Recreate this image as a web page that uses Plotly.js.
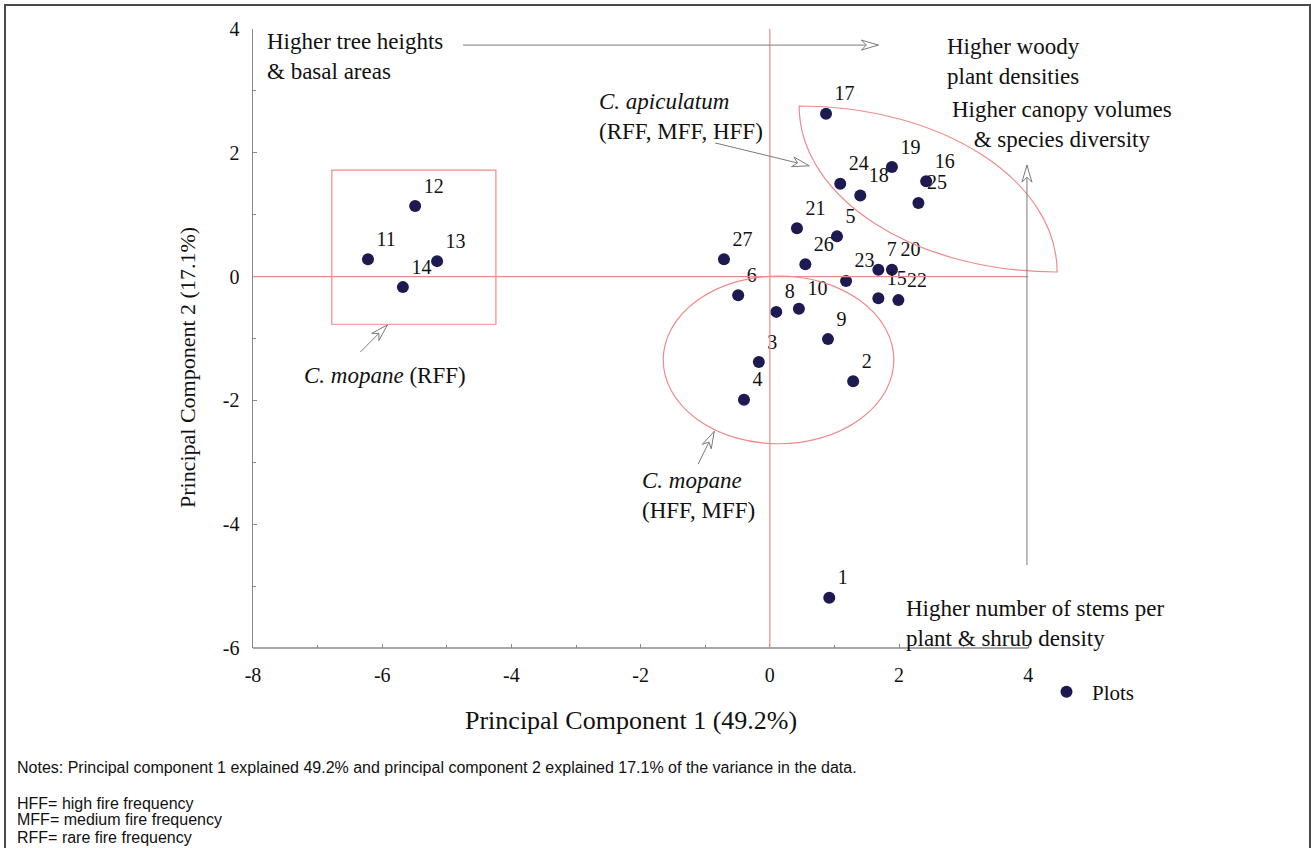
<!DOCTYPE html>
<html>
<head>
<meta charset="utf-8">
<script src="https://cdn.plot.ly/plotly-3.0.1.min.js"></script>
<style>
  html, body { margin: 0; padding: 0; background: #fff; overflow: hidden; }
  #chart { position: absolute; left: 0; top: 0; width: 1311px; height: 848px; }
  #frame { position: absolute; left: 4px; top: 4px; width: 1303px; height: 900px;
           border: 2px solid #4a4a4a; border-bottom: none; pointer-events: none; }
</style>
</head>
<body>
<div id="chart"></div>
<div id="frame"></div>
<script>
// ---- data ----
const plotIds = ['1','2','3','4','5','6','7','8','9','10','11','12','13','14','15','16','17','18','19','20','21','22','23','24','25','26','27'];
const pc1 = [0.92, 1.29, -0.17, -0.40, 1.04, -0.49, 1.68, 0.10, 0.90, 0.45, -6.22, -5.49, -5.15, -5.68, 1.68, 2.42, 0.87, 1.40, 1.89, 1.89, 0.42, 1.99, 1.18, 1.09, 2.30, 0.55, -0.71];
const pc2 = [-5.19, -1.69, -1.38, -1.99, 0.65, -0.30, 0.11, -0.57, -1.01, -0.52, 0.28, 1.14, 0.25, -0.17, -0.35, 1.54, 2.63, 1.31, 1.77, 0.11, 0.78, -0.38, -0.07, 1.50, 1.19, 0.20, 0.28];
const xMajorTicks = [-8, -6, -4, -2, 0, 2, 4];
const xTickLabels = ['-8', '-6', '-4', '-2', '0', '2', '4'];
const xMinorTicks = [-7, -5, -3, -1, 1, 3];
const yMajorTicks = [-6, -4, -2, 0, 2, 4];
const yTickLabels = ['-6', '-4', '-2', '0', '2', '4'];
const yMinorTicks = [-5, -3, -1, 1, 3];
const noteLines = [
  'HFF= high fire frequency',
  'MFF= medium fire frequency',
  'RFF= rare fire frequency'
];

// ---- layout geometry ----
const W = 1311, H = 848;
const M = {l: 253, r: 244, t: 29, b: 200};
const xRange = [-8, 4.6], yRange = [-6, 4];
const plotW = W - M.l - M.r, plotH = H - M.t - M.b;
const sx = plotW / (xRange[1] - xRange[0]);
const sy = plotH / (yRange[1] - yRange[0]);
const px2paperX = p => (p - M.l) / plotW;
const px2paperY = p => (M.t + plotH - p) / plotH;

const SERIF = 'Liberation Serif, Times New Roman, serif';
const SANS = 'Liberation Sans, Arial, sans-serif';
const RED = '#f08a8a';
const GREY = '#8a8a8a';
const ARROW = '#7a7a7a';

const shapes = [];
// axis line along the bottom (x from -8 to 4)
shapes.push({type: 'line', xref: 'x', yref: 'paper', x0: -8, x1: 4, y0: 0, y1: 0,
             line: {color: GREY, width: 1.5}});
// red reference lines
shapes.push({type: 'line', xref: 'x', yref: 'y', x0: -8, x1: 4, y0: 0, y1: 0, line: {color: RED, width: 1.2}});
shapes.push({type: 'line', xref: 'x', yref: 'y', x0: 0, x1: 0, y0: -6, y1: 4, line: {color: RED, width: 1.2}});
// group outlines
shapes.push({type: 'rect', xref: 'x', yref: 'y', x0: -6.78, x1: -4.24, y0: -0.77, y1: 1.72,
             line: {color: RED, width: 1.2}});
shapes.push({type: 'circle', xref: 'x', yref: 'y', x0: -1.65, x1: 1.92, y0: -2.70, y1: 0.01,
             line: {color: RED, width: 1.2}});
shapes.push({type: 'path', xref: 'x', yref: 'y',
             path: 'M0.454,2.756 C2.659,2.756 4.447,1.556 4.447,0.074 C2.241,0.074 0.454,1.275 0.454,2.756 Z',
             line: {color: RED, width: 1.2}});

// arrows (shaft + open arrowhead)
function addArrow(x0, y0, x1, y1) {
  shapes.push({type: 'line', xref: 'x', yref: 'y', x0: x0, y0: y0, x1: x1, y1: y1,
               line: {color: ARROW, width: 1}});
  const ang = Math.atan2((y1 - y0) * sy, (x1 - x0) * sx);
  const pts = [[0, 0], [-17, 5], [-12, 0], [-17, -5]];
  const rot = pts.map(([a, b]) => [a * Math.cos(ang) - b * Math.sin(ang), a * Math.sin(ang) + b * Math.cos(ang)]);
  const path = 'M' + rot.map(p => p[0].toFixed(2) + ',' + p[1].toFixed(2)).join(' L') + ' Z';
  shapes.push({type: 'path', xref: 'x', yref: 'y', xsizemode: 'pixel', ysizemode: 'pixel',
               xanchor: x1, yanchor: y1, path: path, fillcolor: '#ffffff',
               line: {color: ARROW, width: 1}});
}
addArrow(-4.75, 3.74, 1.68, 3.74);     // higher tree heights ->
addArrow(3.98, -4.66, 3.98, 1.80);     // vertical arrow
addArrow(-0.85, 2.16, 0.61, 1.79);     // C. apiculatum
addArrow(-6.34, -1.22, -5.92, -0.78);  // C. mopane (RFF)
addArrow(-1.11, -3.03, -0.86, -2.50);  // C. mopane (HFF, MFF)

const annFont = {family: SERIF, size: 23, color: '#111'};
function txt(text, x, y, xanchor, align) {
  return {text: text, x: x, y: y, xref: 'x', yref: 'y', xanchor: xanchor, yanchor: 'middle',
          align: align, showarrow: false, font: annFont};
}
const annotations = [
  txt('Higher tree heights<br>&amp; basal areas', -7.81, 3.56, 'left', 'left'),
  txt('Higher woody<br>plant densities', 2.71, 3.48, 'left', 'left'),
  txt('Higher canopy volumes<br>&amp; species diversity', 4.52, 2.45, 'center', 'center'),
  txt('Higher number of stems per<br>plant &amp; shrub density', 2.08, -5.60, 'left', 'left'),
  txt('<i>C. apiculatum</i><br>(RFF, MFF, HFF)', -2.67, 2.59, 'left', 'left'),
  txt('<i>C. mopane</i> (RFF)', -7.24, -1.59, 'left', 'left'),
  txt('<i>C. mopane</i><br>(HFF, MFF)', -2.01, -3.54, 'left', 'left'),
  // axis titles
  {text: 'Principal Component 1 (49.2%)', xref: 'paper', yref: 'paper',
   x: px2paperX(631), y: px2paperY(720), xanchor: 'center', yanchor: 'middle', showarrow: false,
   font: {family: SERIF, size: 26, color: '#111'}},
  {text: 'Principal Component 2 (17.1%)', xref: 'paper', yref: 'paper', textangle: -90,
   x: px2paperX(187), y: px2paperY(368), xanchor: 'center', yanchor: 'middle', showarrow: false,
   font: {family: SERIF, size: 22, color: '#111'}},
  // notes
  {text: 'Notes: Principal component 1 explained 49.2% and principal component 2 explained 17.1% of the variance in the data.',
   xref: 'paper', yref: 'paper', x: px2paperX(15), y: px2paperY(767), xanchor: 'left', yanchor: 'middle',
   showarrow: false, font: {family: SANS, size: 16, color: '#111'}}
];
noteLines.forEach((line, i) => {
  annotations.push({text: line, xref: 'paper', yref: 'paper', x: px2paperX(15), y: px2paperY(803 + i * 17),
                    xanchor: 'left', yanchor: 'middle', showarrow: false,
                    font: {family: SANS, size: 16, color: '#111'}});
});

const trace = {
  type: 'scatter', mode: 'markers+text', name: 'Plots',
  x: pc1, y: pc2, text: plotIds, textposition: 'top right',
  textfont: {family: SERIF, size: 20, color: '#111'},
  marker: {size: 12, color: '#1c1a50'},
  cliponaxis: false, hoverinfo: 'text+x+y'
};

const axisCommon = {
  showgrid: false, zeroline: false, ticks: 'inside', ticklen: 4, tickwidth: 1, tickcolor: GREY,
  tickfont: {family: SERIF, size: 20, color: '#111'}, fixedrange: true
};

const layout = {
  width: W, height: H,
  margin: {l: M.l, r: M.r, t: M.t, b: M.b, pad: 0},
  paper_bgcolor: '#ffffff', plot_bgcolor: '#ffffff',
  xaxis: Object.assign({}, axisCommon, {
    range: xRange, showline: false, tickmode: 'array', tickvals: xMajorTicks, ticktext: xTickLabels,
    ticklabelstandoff: 13,
    minor: {tickmode: 'array', tickvals: xMinorTicks, ticks: 'inside', ticklen: 3, tickcolor: GREY}
  }),
  yaxis: Object.assign({}, axisCommon, {
    range: yRange, showline: true, linecolor: GREY, linewidth: 1.5, tickmode: 'array', tickvals: yMajorTicks,
    ticktext: yTickLabels, ticklabelstandoff: 8,
    minor: {tickmode: 'array', tickvals: yMinorTicks, ticks: 'inside', ticklen: 3, tickcolor: GREY}
  }),
  showlegend: true,
  legend: {x: px2paperX(1041), xanchor: 'left', y: px2paperY(692), yanchor: 'middle', itemwidth: 41,
           bgcolor: 'rgba(0,0,0,0)', font: {family: SERIF, size: 21, color: '#111'}},
  shapes: shapes,
  annotations: annotations
};

Plotly.newPlot('chart', [trace], layout, {displayModeBar: false, staticPlot: true});
</script>
</body>
</html>
